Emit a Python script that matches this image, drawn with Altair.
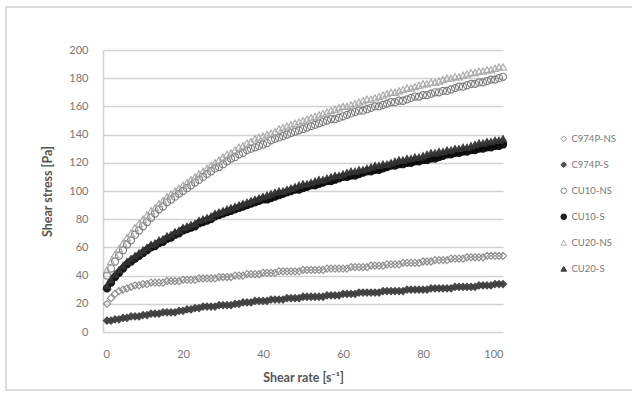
import altair as alt
import pandas as pd

shear_rate = list(range(1, 101))

c974p_ns = [20, 24, 27, 29, 30, 31, 32, 33, 33, 34, 34, 35, 35, 35, 35, 36, 36, 36, 36, 37,
            37, 37, 37, 38, 38, 38, 38, 38, 39, 39, 39, 39, 40, 40, 40, 41, 41, 41, 41, 42,
            42, 42, 42, 43, 43, 43, 43, 43, 43, 44, 44, 44, 44, 44, 44, 45, 45, 45, 45, 45,
            45, 46, 46, 46, 46, 46, 47, 47, 47, 47, 48, 48, 48, 48, 49, 49, 49, 49, 49, 50,
            50, 50, 51, 51, 51, 51, 52, 52, 52, 52, 53, 53, 53, 53, 53, 54, 54, 54, 54, 54]
c974p_s = [8, 8, 9, 9, 10, 10, 11, 11, 11, 12, 12, 13, 13, 13, 14, 14, 14, 14, 15, 15,
           16, 16, 17, 17, 18, 18, 18, 18, 19, 19, 19, 19, 20, 20, 21, 21, 21, 22, 22, 22,
           22, 23, 23, 23, 23, 24, 24, 24, 24, 25, 25, 25, 25, 25, 25, 26, 26, 26, 26, 27,
           27, 27, 27, 28, 28, 28, 28, 28, 28, 29, 29, 29, 29, 29, 29, 30, 30, 30, 30, 30,
           30, 31, 31, 31, 31, 31, 31, 32, 32, 32, 32, 32, 32, 33, 33, 33, 33, 34, 34, 34]
cu10_ns = [40, 45, 50, 54, 58, 62, 65, 69, 72, 75, 78, 81, 84, 87, 89, 92, 94, 96, 98, 100,
           102, 104, 106, 108, 110, 112, 114, 116, 117, 119, 121, 123, 124, 126, 127, 129, 130, 131, 132, 133,
           134, 136, 137, 138, 139, 140, 141, 142, 143, 144, 145, 146, 147, 148, 149, 150, 151, 151, 152, 153,
           154, 155, 156, 157, 157, 158, 159, 160, 160, 161, 162, 163, 163, 164, 164, 165, 166, 167, 167, 168,
           168, 169, 170, 170, 171, 171, 172, 173, 174, 174, 175, 176, 176, 177, 177, 178, 179, 179, 180, 181]
cu10_s = [31, 35, 39, 42, 45, 48, 50, 52, 54, 56, 58, 60, 61, 63, 64, 66, 67, 69, 70, 72,
          73, 74, 75, 77, 78, 79, 80, 82, 83, 84, 85, 86, 87, 88, 89, 90, 91, 92, 93, 94,
          94, 95, 96, 97, 98, 99, 100, 101, 101, 102, 103, 104, 104, 105, 106, 107, 107, 108, 109, 110,
          110, 111, 111, 112, 113, 114, 114, 115, 115, 116, 117, 118, 118, 119, 119, 120, 120, 121, 121, 122,
          122, 123, 123, 124, 125, 126, 126, 127, 127, 128, 128, 129, 129, 130, 130, 131, 131, 132, 132, 133]
cu20_ns = [44, 50, 55, 59, 63, 67, 70, 74, 77, 80, 83, 86, 88, 91, 93, 96, 98, 100, 102, 104,
           106, 108, 110, 112, 114, 116, 118, 120, 122, 124, 126, 127, 129, 131, 132, 134, 135, 137, 138, 139,
           140, 141, 142, 144, 145, 146, 147, 148, 149, 150, 151, 152, 153, 154, 155, 156, 157, 158, 159, 160,
           160, 161, 162, 163, 164, 165, 165, 166, 167, 168, 169, 170, 170, 171, 172, 173, 173, 174, 175, 176,
           176, 177, 177, 178, 179, 180, 180, 181, 181, 182, 183, 184, 184, 185, 185, 186, 186, 187, 188, 188]
cu20_s = [33, 37, 41, 44, 47, 50, 52, 54, 56, 58, 60, 62, 63, 65, 66, 68, 69, 71, 72, 74,
          75, 76, 77, 79, 80, 81, 82, 84, 85, 86, 87, 88, 89, 90, 91, 92, 93, 94, 95, 96,
          97, 98, 99, 100, 100, 101, 102, 103, 104, 105, 105, 106, 107, 108, 108, 109, 110, 111, 111, 112,
          113, 114, 114, 115, 115, 116, 117, 118, 118, 119, 119, 120, 121, 122, 122, 123, 123, 124, 124, 125,
          126, 127, 127, 128, 128, 129, 129, 130, 130, 131, 131, 132, 133, 134, 134, 135, 135, 136, 136, 137]

series_names = ["C974P-NS", "C974P-S", "CU10-NS", "CU10-S", "CU20-NS", "CU20-S"]
series_values = [c974p_ns, c974p_s, cu10_ns, cu10_s, cu20_ns, cu20_s]
shapes = ["diamond", "diamond", "circle", "circle", "triangle-up", "triangle-up"]
strokes = ["#8c8c8c", "#3f3f3f", "#7a7a7a", "#0a0a0a", "#a8a8a8", "#333333"]
fills = ["transparent", "#3f3f3f", "transparent", "#0a0a0a", "transparent", "#333333"]
y_ticks = [0, 20, 40, 60, 80, 100, 120, 140, 160, 180, 200]
x_ticks = [0, 20, 40, 60, 80, 100]

rows = []
for idx, (name, vals) in enumerate(zip(series_names, series_values)):
    for xv, yv in zip(shear_rate, vals):
        rows.append({"rate": xv, "stress": yv, "series": name, "k": idx})
df = pd.DataFrame(rows)

FONT = "Lato"

points = alt.Chart(df).mark_point(size=50, strokeWidth=1.2, opacity=0.95).encode(
    x=alt.X("rate:Q", scale=alt.Scale(domain=[0, 100], nice=False),
            axis=alt.Axis(values=x_ticks, title="Shear rate [s\u207b\u00b9]", grid=False,
                          domain=False, ticks=False, labelPadding=16, titlePadding=12,
                          labelFontSize=11, labelColor="#777777", titleFontSize=12.5,
                          titleColor="#555555", titleFontWeight="bold", labelFont=FONT,
                          titleFont=FONT)),
    y=alt.Y("stress:Q", scale=alt.Scale(domain=[0, 200], nice=False),
            axis=alt.Axis(values=y_ticks, title="Shear stress [Pa]", grid=True,
                          gridColor="#d2d2d2", gridWidth=1.6, domain=True,
                          domainColor="#d2d2d2", domainWidth=1.6, ticks=False,
                          labelPadding=15, titlePadding=14, labelFontSize=11,
                          labelColor="#777777", titleFontSize=12.5, titleColor="#555555",
                          titleFontWeight="bold", labelFont=FONT, titleFont=FONT)),
    shape=alt.Shape("series:N", scale=alt.Scale(domain=series_names, range=shapes),
                    legend=alt.Legend(title=None, orient="none", legendX=456, legendY=84,
                                      rowPadding=15, labelFontSize=9.5, labelColor="#777777",
                                      labelFont=FONT, symbolSize=32, symbolStrokeWidth=1,
                                      labelOffset=3)),
    stroke=alt.Stroke("series:N", scale=alt.Scale(domain=series_names, range=strokes)),
    fill=alt.Fill("series:N", scale=alt.Scale(domain=series_names, range=fills)),
    order=alt.Order("k:Q"),
)

frame = alt.Chart(pd.DataFrame({"a": [0]})).mark_rect(
    fill="transparent", stroke="#d0d0d0", strokeWidth=1.5
).encode(
    x=alt.value(-97), x2=alt.value(545), y=alt.value(-43), y2=alt.value(340)
)

chart = alt.layer(frame, points).properties(
    width=400, height=282,
    autosize=alt.AutoSizeParams(type="none"),
    padding={"left": 103, "top": 50, "right": 129, "bottom": 62},
    background="white",
).configure_view(stroke=None)

chart.save("out.html", embed_options={"renderer": "svg", "actions": False})
